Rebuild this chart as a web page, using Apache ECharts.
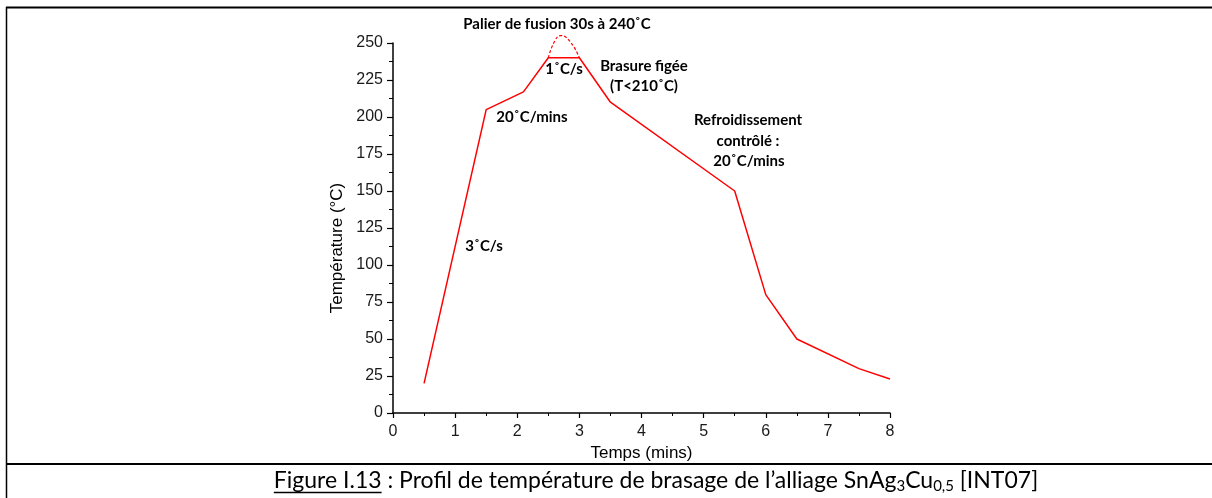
<!DOCTYPE html>
<html>
<head>
<meta charset="utf-8">
<script src="https://cdn.jsdelivr.net/npm/echarts@6/dist/echarts.min.js"></script>
<style>
  html, body { margin: 0; padding: 0; background: #fff; }
  #ec { width: 1212px; height: 498px; }
</style>
</head>
<body>
<div id="ec"></div>
<script>
// profil de brasage
const temps = [0.5, 1.5, 2.1, 2.5, 3.0, 3.5, 5.5, 6.0, 6.5, 7.5, 8.0];
const tempC = [20, 205, 217, 240, 240, 210, 150, 80, 50, 30, 23];
// palier de fusion (pointillé)
const palierX = [2.5, 2.6, 2.7, 2.85, 3.0];
const palierY = [240, 251, 255, 251, 240];
const xTicks = [0, 1, 2, 3, 4, 5, 6, 7, 8];
const yTicks = [0, 25, 50, 75, 100, 125, 150, 175, 200, 225, 250];

const annFont = 'Lato';
const capFont = 'Lato';
const axFont = 'Liberation Sans';

function measure(txt, font) {
  const c = document.createElement('canvas').getContext('2d');
  c.font = font;
  return c.measureText(txt).width;
}

const chart = echarts.init(document.getElementById('ec'));

// légende de la figure
const capSize = 23;
const subSize = 15;
const capParts = ['Figure I.13', ' : Profil de température de brasage de l’alliage SnAg', '3', 'Cu', '0,5', ' [INT07]'];
const capW = measure(capParts[0], capSize + 'px ' + capFont) +
  measure(capParts[1], capSize + 'px ' + capFont) +
  measure(capParts[2], subSize + 'px ' + capFont) +
  measure(capParts[3], capSize + 'px ' + capFont) +
  measure(capParts[4], subSize + 'px ' + capFont) +
  measure(capParts[5], capSize + 'px ' + capFont);
const capLeft = 656 - capW / 2;
const figW = measure(capParts[0], capSize + 'px ' + capFont);

function ann(x, y, text) {
  return {
    type: 'text', x: x, y: y,
    style: {
      text: text, fill: '#000', font: 'bold 15px ' + annFont,
      align: 'center', verticalAlign: 'middle'
    }
  };
}

chart.setOption({
  animation: false,
  grid: { left: 393, right: 322, top: 43, bottom: 85 },
  xAxis: {
    type: 'value', min: 0, max: 8, interval: 1,
    name: 'Temps (mins)', nameLocation: 'middle', nameGap: 30,
    nameTextStyle: { fontFamily: axFont, fontSize: 17, color: '#000' },
    axisLine: { lineStyle: { color: '#000', width: 1.5 } },
    axisTick: { length: 5, lineStyle: { color: '#000', width: 1.2 } },
    minorTick: { show: true, splitNumber: 2, length: 3, lineStyle: { color: '#000', width: 1 } },
    axisLabel: {
      fontFamily: axFont, fontSize: 16, color: '#1a1a1a', margin: 11,
      formatter: v => xTicks.includes(v) ? String(v) : ''
    },
    splitLine: { show: false }
  },
  yAxis: {
    type: 'value', min: 0, max: 250, interval: 25,
    axisLine: { show: true, lineStyle: { color: '#000', width: 1.5 } },
    axisTick: { show: true, length: 6, lineStyle: { color: '#000', width: 1.2 } },
    minorTick: { show: true, splitNumber: 2, length: 4, lineStyle: { color: '#000', width: 1 } },
    axisLabel: {
      fontFamily: axFont, fontSize: 16, color: '#1a1a1a', margin: 10,
      formatter: v => yTicks.includes(v) ? String(v) : ''
    },
    splitLine: { show: false }
  },
  series: [
    {
      type: 'line',
      data: temps.map((t, i) => [t, tempC[i]]),
      symbol: 'none',
      lineStyle: { color: '#ff0000', width: 1.5 },
      clip: false
    },
    {
      type: 'line',
      data: palierX.map((t, i) => [t, palierY[i]]),
      symbol: 'none',
      smooth: true,
      lineStyle: { color: '#ff0000', width: 1.2, type: [3, 2] },
      clip: false
    }
  ],
  graphic: [
    // cadre
    { type: 'line', shape: { x1: 6, y1: 7.5, x2: 1212, y2: 7.5 }, style: { stroke: '#000', lineWidth: 2 } },
    { type: 'line', shape: { x1: 6.5, y1: 7, x2: 6.5, y2: 498 }, style: { stroke: '#000', lineWidth: 1.5 } },
    { type: 'line', shape: { x1: 6, y1: 464, x2: 1212, y2: 464 }, style: { stroke: '#000', lineWidth: 2 } },
    // titre de l'axe Y
    {
      type: 'text', x: 337, y: 248, rotation: Math.PI / 2,
      style: { text: 'Température (°C)', fill: '#000', font: '17px ' + axFont, align: 'center', verticalAlign: 'middle' }
    },
    // annotations
    ann(557, 24, 'Palier de fusion 30s à 240˚C'),
    ann(564, 69, '1˚C/s'),
    ann(644, 66, 'Brasure figée'),
    ann(644, 86, '(T<210˚C)'),
    ann(532, 117, '20˚C/mins'),
    ann(484, 246, '3˚C/s'),
    ann(748, 120, 'Refroidissement'),
    ann(748, 141, 'contrôlé :'),
    ann(749, 161, '20˚C/mins'),
    // légende
    {
      type: 'text', x: capLeft, y: 468,
      style: {
        text: '{n|' + capParts[0] + '}{n|' + capParts[1] + '}{s|' + capParts[2] + '}{n|' + capParts[3] + '}{s|' + capParts[4] + '}{n|' + capParts[5] + '}',
        rich: {
          n: { fontFamily: capFont, fontSize: capSize, lineHeight: 26, fill: '#000' },
          s: { fontFamily: capFont, fontSize: subSize, lineHeight: 14, verticalAlign: 'bottom', fill: '#000' }
        }
      }
    },
    { type: 'line', shape: { x1: capLeft, y1: 492.5, x2: capLeft + figW, y2: 492.5 }, style: { stroke: '#000', lineWidth: 1.5 } }
  ]
});
</script>
</body>
</html>
